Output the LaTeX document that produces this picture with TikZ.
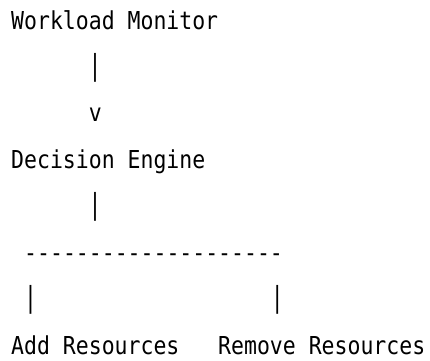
\documentclass[tikz,border=0pt]{standalone}
\usepackage{fontspec}
\setmonofont[FakeStretch=0.87]{DejaVu Sans Mono}
\usepackage{graphicx}
\usepackage{tikz}
\def\tallbar{\scalebox{1}[1.17]{|}}
\tikzset{ascii/.style={font=\ttfamily\fontsize{24.7}{30}\selectfont, anchor=base west, inner sep=0pt, text=black},
	asciibar/.style={ascii, anchor=center}}

\begin{document}
\begin{tikzpicture}[x=1pt, y=-1pt]
			%%%%% START %%%%%
			
			\useasboundingbox (0, 0) rectangle (430, 360);
			
			\node[ascii] (monitor) at (11, 29) {Workload Monitor};
			\node[asciibar] (stemone) at (95.2, 67.5) {\tallbar};
			\node[ascii] (arrowv) at (88.7, 121.9) {v};
			
			\node[ascii] (engine) at (11, 168.3) {Decision Engine};
			\node[asciibar] (stemtwo) at (95.2, 206.7) {\tallbar};
			\node[ascii] (splitbar) at (24, 261.1) {--------------------};
			
			\node[asciibar] (legleft) at (30.7, 299.5) {\tallbar};
			\node[asciibar] (legright) at (277.3, 299.5) {\tallbar};
			
			\node[ascii] (addres) at (11, 354) {Add Resources};
			\node[ascii] (removeres) at (218, 354) {Remove Resources};
			
			%%%%% END %%%%%
		\end{tikzpicture}
\end{document}
